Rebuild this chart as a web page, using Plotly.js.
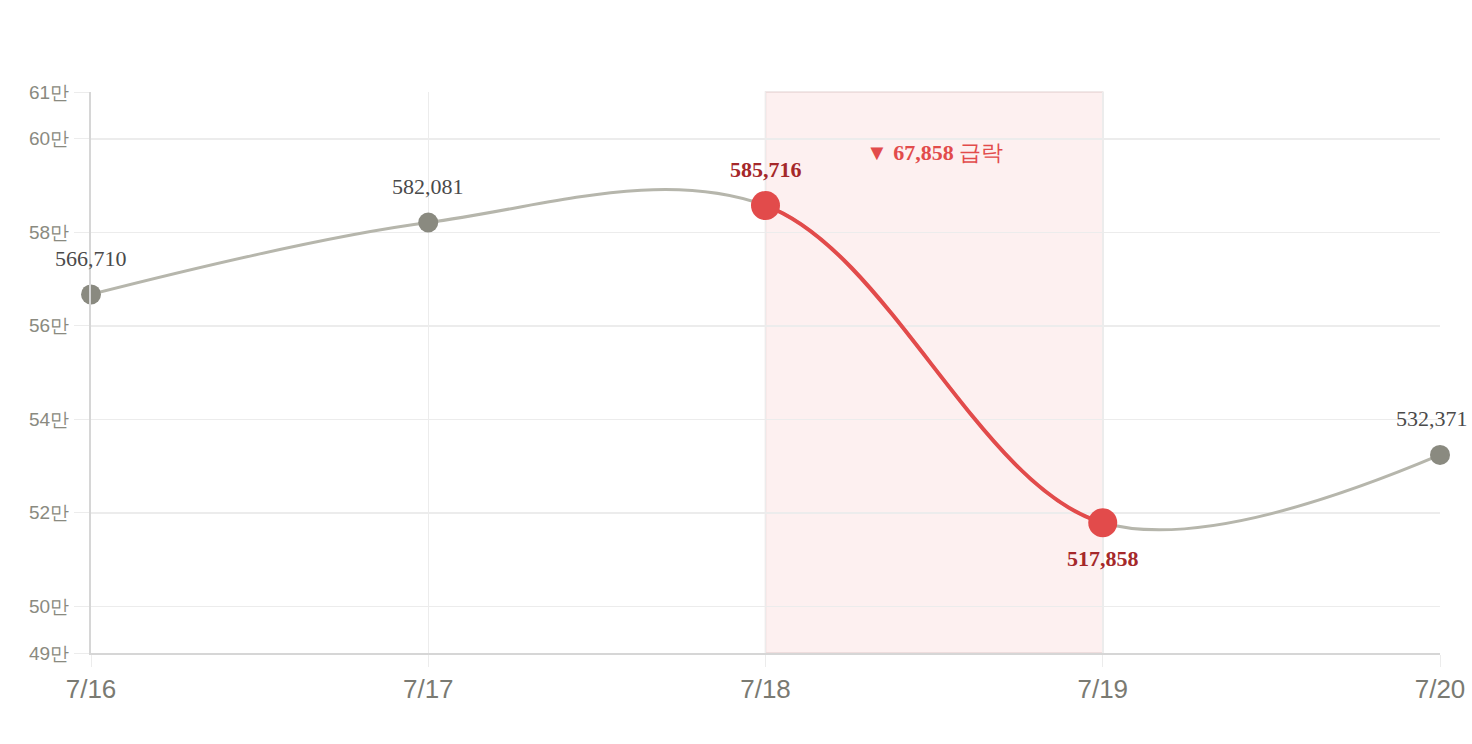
<!DOCTYPE html>
<html>
<head>
<meta charset="utf-8">
<script src="https://cdn.plot.ly/plotly-3.0.1.min.js"></script>
<style>
  html, body { margin: 0; padding: 0; background: #fff; }
  #graph { width: 1472px; height: 744px; }
</style>
</head>
<body>
<div id="graph"></div>
<script>
// data
var dates = ['7/16', '7/17', '7/18', '7/19', '7/20'];
var values = [566710, 582081, 585716, 517858, 532371];
var yTickVals = [490000, 500000, 520000, 540000, 560000, 580000, 600000, 610000];
var yTickText = ['49만', '50만', '52만', '54만', '56만', '58만', '60만', '61만'];
var dropFrom = 2; // index of 7/18
var dropTo = 3;   // index of 7/19
var dropText = '▼ 67,858 급락';

var xIdx = dates.map(function(d, i) { return i; });

function fmt(v) {
    return v.toLocaleString('en-US');
}

function isDrop(i) {
    return i === dropFrom || i === dropTo;
}

var grey = '#8a8a80';
var greyLine = '#b6b6ac';
var red = '#e24b4b';
var darkRed = '#a5282a';
var serif = '"Liberation Serif", "Times New Roman", serif';
var sans = '"Liberation Sans", Arial, sans-serif';

/* ---------- traces ---------- */

// full grey smoothed line
var baseLine = {
    x: xIdx,
    y: values,
    mode: 'lines',
    line: { color: greyLine, width: 3, shape: 'spline', smoothing: 1 },
    hoverinfo: 'skip'
};

var normalIdx = xIdx.filter(function(i) { return !isDrop(i); });

var greyPoints = {
    x: normalIdx,
    y: normalIdx.map(function(i) { return values[i]; }),
    mode: 'markers',
    marker: { color: grey, size: 20 },
    cliponaxis: false
};

// same spline on a second x axis whose domain only covers the drop,
// so the red piece follows the exact same curve
var dropLine = {
    x: xIdx,
    y: values,
    xaxis: 'x2',
    mode: 'lines',
    line: { color: red, width: 4, shape: 'spline', smoothing: 1 },
    hoverinfo: 'skip'
};

var redPoints = {
    x: [dropFrom, dropTo],
    y: [values[dropFrom], values[dropTo]],
    xaxis: 'x2',
    mode: 'markers',
    marker: { color: red, size: 29 },
    cliponaxis: false
};

var data = [baseLine, greyPoints, dropLine, redPoints];

/* ---------- value labels ---------- */

var lastIdx = dates.length - 1;

var labels = xIdx.map(function(i) {
    var below = (i === dropTo);
    return {
        xref: 'x',
        yref: 'y',
        x: i,
        y: values[i],
        text: isDrop(i) ? '<b>' + fmt(values[i]) + '</b>' : fmt(values[i]),
        showarrow: false,
        yanchor: 'middle',
        yshift: below ? -36 : 36,
        xshift: i === lastIdx ? -8 : 0, // keep the last label inside the page
        font: { family: serif, size: 22, color: isDrop(i) ? darkRed : '#4a4a4a' }
    };
});

var dropNote = {
    xref: 'x',
    yref: 'y',
    x: (dropFrom + dropTo) / 2,
    y: 597000,
    text: '<b>' + dropText.replace('급락', '</b>급락'),
    showarrow: false,
    font: { family: serif, size: 22, color: red }
};

/* ---------- layout ---------- */

var span = dates.length - 1;

var layout = {
    width: 1472,
    height: 744,
    showlegend: false,
    paper_bgcolor: '#fff',
    plot_bgcolor: 'rgba(0,0,0,0)',
    margin: { l: 91, r: 32, t: 92, b: 91 },
    xaxis: {
        range: [0, span],
        domain: [0, 1],
        tickvals: xIdx,
        ticktext: dates,
        showgrid: true,
        gridcolor: '#ececec',
        gridwidth: 1.5,
        zeroline: false,
        showline: true,
        linecolor: '#d6d6d6',
        linewidth: 2,
        ticks: 'outside',
        ticklen: 12,
        tickcolor: '#ececec',
        tickfont: { family: sans, size: 26, color: '#7a7a72' },
        fixedrange: true
    },
    xaxis2: {
        range: [dropFrom, dropTo],
        domain: [dropFrom / span, dropTo / span],
        anchor: 'y',
        visible: false,
        fixedrange: true
    },
    yaxis: {
        range: [490000, 610000],
        tickvals: yTickVals,
        ticktext: yTickText,
        showgrid: true,
        gridcolor: '#ececec',
        gridwidth: 1.5,
        zeroline: false,
        showline: true,
        linecolor: '#d6d6d6',
        linewidth: 2,
        ticks: 'outside',
        ticklen: 15,
        tickcolor: '#ececec',
        ticklabelstandoff: 1,
        tickfont: { family: sans, size: 19, color: '#8a8a80' },
        fixedrange: true
    },
    shapes: [{
        type: 'rect',
        xref: 'x',
        yref: 'paper',
        x0: dropFrom,
        x1: dropTo,
        y0: 0,
        y1: 1,
        fillcolor: 'rgba(240,160,160,0.16)',
        line: { color: 'rgba(200,170,170,0.35)', width: 1.5 },
        layer: 'below'
    }],
    annotations: labels.concat([dropNote])
};

var graph = document.getElementById('graph');
Plotly.newPlot(graph, data, layout, { staticPlot: true });
</script>
</body>
</html>
